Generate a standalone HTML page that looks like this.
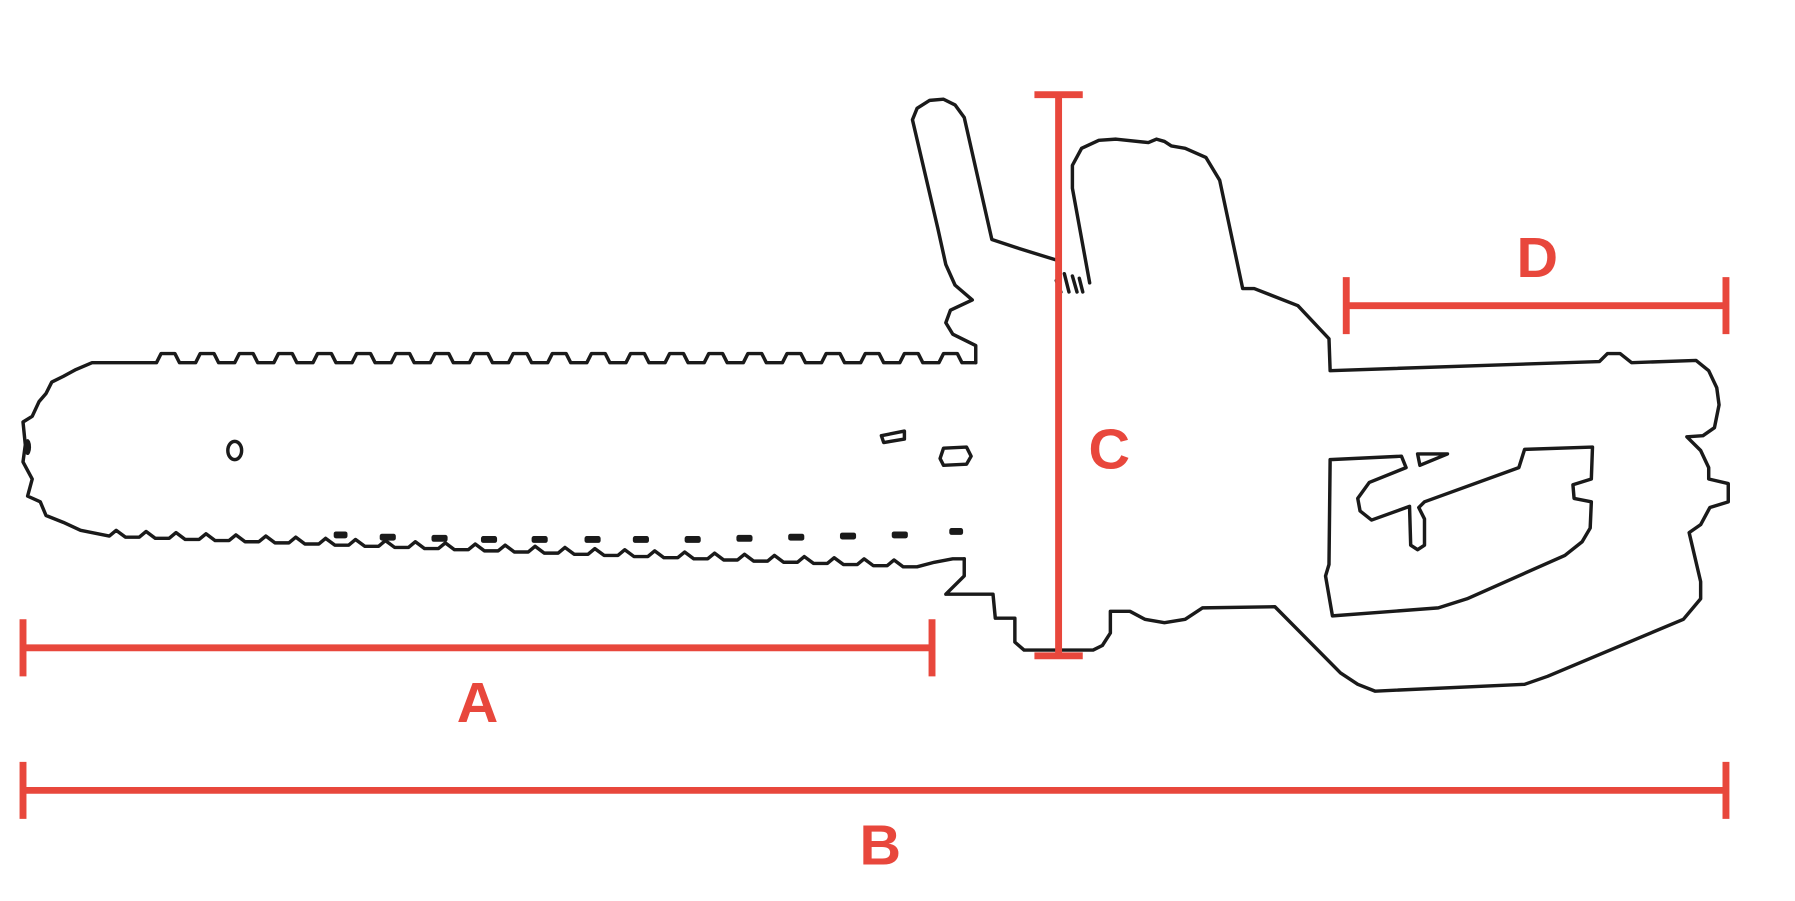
<!DOCTYPE html>
<html><head><meta charset="utf-8"><style>
html,body{margin:0;padding:0;background:#fff;}
svg{display:block;}
text{font-family:"Liberation Sans",sans-serif;font-weight:bold;fill:#e8473c;}
</style></head><body>
<svg width="1795" height="901" viewBox="0 0 1560 790" preserveAspectRatio="none" xmlns="http://www.w3.org/2000/svg">
<g fill="none" stroke="#1a1a1a" stroke-width="3" stroke-linejoin="round" stroke-linecap="round">
<!-- bar -->
<path d="M848,318 L836,318
 l-4,-8 h-12 l-4,8 h-14
 l-4,-8 h-12 l-4,8 h-14
 l-4,-8 h-12 l-4,8 h-14
 l-4,-8 h-12 l-4,8 h-14
 l-4,-8 h-12 l-4,8 h-14
 l-4,-8 h-12 l-4,8 h-14
 l-4,-8 h-12 l-4,8 h-14
 l-4,-8 h-12 l-4,8 h-14
 l-4,-8 h-12 l-4,8 h-14
 l-4,-8 h-12 l-4,8 h-14
 l-4,-8 h-12 l-4,8 h-14
 l-4,-8 h-12 l-4,8 h-14
 l-4,-8 h-12 l-4,8 h-14
 l-4,-8 h-12 l-4,8 h-14
 l-4,-8 h-12 l-4,8 h-14
 l-4,-8 h-12 l-4,8 h-14
 l-4,-8 h-12 l-4,8 h-14
 l-4,-8 h-12 l-4,8 h-14
 l-4,-8 h-12 l-4,8 h-14
 l-4,-8 h-12 l-4,8 h-14
 l-4,-8 h-12 l-4,8 h-14
 L80,318 L66,324 L55,330 L45,335 L40,345 L34,352 L28,365 L20,370 L22,390 L20,405 L28,420 L24,435 L35,440 L40,452 L55,458 L70,465 L95,470
 l6,-5 l8,6 h12 l6,-5 l8,6 h12 l6,-5 l8,6 h12 l6,-5 l8,6 h12 l6,-5 l8,6 h12
 l6,-5 l8,6 h12 l6,-5 l8,6 h12 l6,-5 l8,6 h12 l6,-5 l8,6 h12 l6,-5 l8,6 h12
 l6,-5 l8,6 h12 l6,-5 l8,6 h12 l6,-5 l8,6 h12 l6,-5 l8,6 h12 l6,-5 l8,6 h12
 l6,-5 l8,6 h12 l6,-5 l8,6 h12 l6,-5 l8,6 h12 l6,-5 l8,6 h12 l6,-5 l8,6 h12
 l6,-5 l8,6 h12 l6,-5 l8,6 h12 l6,-5 l8,6 h12 l6,-5 l8,6 h12 l6,-5 l8,6 h12
 l6,-5 l8,6 h12 l6,-5 l8,6 h12
 L812,493 L828,490 L838,490"/>
<!-- body -->
<path d="M848,318 L848,303 L828,293 L822,283 L826,272 L845,263 L830,250 L822,232 L815,200 L793,105 L797,95 L808,88 L820,87 L830,92 L838,103 L862,210 L886,218 L918,228 M947,248 L932,165 L932,145 L940,130 L955,123 L970,122 L998,125 L1005,122 L1012,124 L1018,128 L1030,130 L1048,138 L1060,158 L1080,253 L1090,253 L1128,268 L1155,297 L1156,325 L1390,317 L1397,310 L1408,310 L1418,318 L1474,316 L1485,325 L1492,340 L1494,355 L1490,375 L1480,382 L1466,383 L1478,395 L1485,410 L1485,420 L1502,424 L1502,440 L1486,445 L1478,460 L1468,467 L1478,510 L1478,525 L1463,543 L1345,593 L1325,600 L1195,606 L1180,600 L1165,590 L1108,532 L1045,533 L1030,543 L1012,546 L995,543 L982,536 L965,536 L965,555 L958,566 L950,570 L890,570 L882,563 L882,542 L865,542 L863,521 L822,521 L838,505 L838,490"/>
<path d="M918,246 l4,10 M925,240 l4,16 M932,242 l4,14 M938,244 l3,12"/>
<!-- trigger guard -->
<path d="M1218,400 L1156,403 L1155,495 L1152,505 L1158,540 L1250,533 L1275,525 L1360,487 L1375,475 L1382,463 L1383,440 L1368,437 L1367,425 L1383,420 L1384,392 L1325,394 L1320,410 L1238,440 L1233,445 L1238,455 L1238,478 L1232,482 L1226,478 L1225,444 L1192,456 L1182,448 L1180,437 L1190,423 L1222,410 Z"/>
<path d="M1232,398 L1258,398 L1234,408 Z"/>
<!-- holes -->
<ellipse cx="204" cy="395" rx="6" ry="8"/>
<path d="M766,382 L786,378 L786,385 L768,388 Z"/>
<path d="M820,393 L840,392 L844,400 L840,407 L820,408 L817,402 Z"/>
</g>
<g fill="#1a1a1a">
<rect x="290" y="466" width="12" height="6" rx="2"/>
<rect x="330" y="468" width="14" height="6" rx="2"/>
<rect x="375" y="469" width="14" height="6" rx="2"/>
<rect x="418" y="470" width="14" height="6" rx="2"/>
<rect x="462" y="470" width="14" height="6" rx="2"/>
<rect x="508" y="470" width="14" height="6" rx="2"/>
<rect x="550" y="470" width="14" height="6" rx="2"/>
<rect x="595" y="470" width="14" height="6" rx="2"/>
<rect x="640" y="469" width="14" height="6" rx="2"/>
<rect x="685" y="468" width="14" height="6" rx="2"/>
<rect x="730" y="467" width="14" height="6" rx="2"/>
<rect x="775" y="466" width="14" height="6" rx="2"/>
<rect x="825" y="463" width="12" height="6" rx="2"/>
<ellipse cx="24" cy="392" rx="3" ry="7"/>
</g>
<g stroke="#e8473c" stroke-width="6" fill="none">
<path d="M20,568 H810 M20,543 V593 M810,543 V593"/>
<path d="M20,693 H1500 M20,668 V718 M1500,668 V718"/>
<path d="M920,83 V575 M899,83 H941 M899,575 H941"/>
<path d="M1170,268 H1500 M1170,243 V293 M1500,243 V293"/>
</g>
<text x="415" y="633" font-size="50" text-anchor="middle">A</text>
<text x="765" y="758" font-size="50" text-anchor="middle">B</text>
<text x="964" y="411" font-size="50" text-anchor="middle">C</text>
<text x="1336" y="243" font-size="50" text-anchor="middle">D</text>
</svg>
</body></html>
